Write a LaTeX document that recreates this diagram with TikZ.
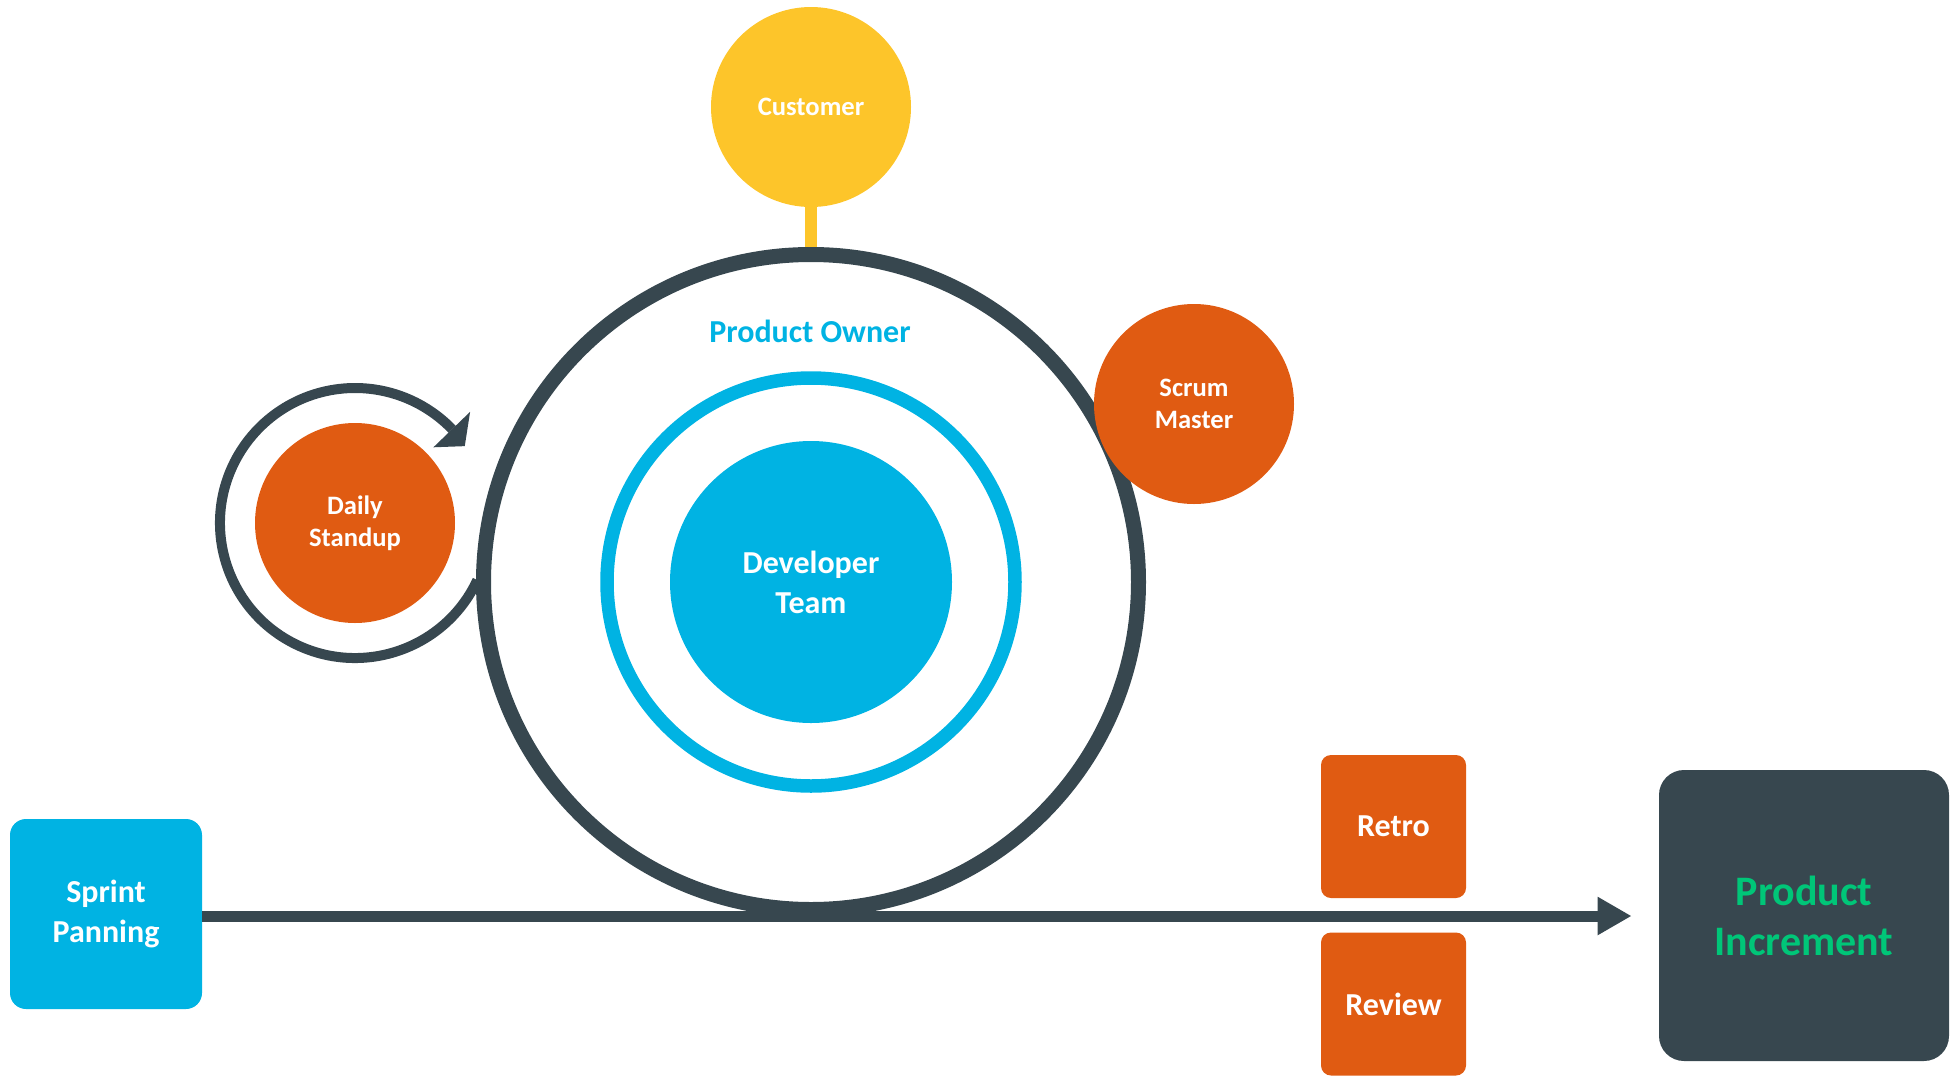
\documentclass[tikz,border=0pt]{standalone}
\usepackage{fontspec}
\setmainfont{Carlito}
\usetikzlibrary{calc,arrows.meta}
\definecolor{dk}{RGB}{55,71,79}
\definecolor{org}{RGB}{224,91,18}
\definecolor{yel}{RGB}{253,197,42}
\definecolor{cy}{RGB}{0,179,227}
\definecolor{grn}{RGB}{0,198,120}
\begin{document}
\begin{tikzpicture}[x=0.5pt,y=0.5pt,
  smallfont/.style={font=\fontsize{13.3pt}{16pt}\selectfont\bfseries},
  midfont/.style={font=\fontsize{16pt}{20pt}\selectfont\bfseries},
  bigfont/.style={font=\fontsize{21pt}{25pt}\selectfont\bfseries},
  role/.style={circle, fill=#1, text=white, minimum size=100pt, inner sep=0pt, align=center, smallfont},
  ring/.style={circle, draw=#1, inner sep=0pt},
  ev/.style={rectangle, rounded corners=5pt, fill=org, text=white, minimum width=72.5pt, minimum height=71.5pt, inner sep=0pt, align=center, midfont},
  flow/.style={draw=dk, line width=5.5pt}
]
\useasboundingbox (0,0) rectangle (1951,-1077);

% main ring and inner team
\node[ring=dk, line width=7.5pt, minimum size=327.5pt] (mr) at (811,-582) {};
\node[ring=cy, line width=6.75pt, minimum size=204pt] (br) at (811,-582) {};
\node[circle, fill=cy, text=white, minimum size=141pt, inner sep=0pt, align=center, midfont] (dev) at (811,-582) {Developer\\Team};
\node[text=cy, midfont] (po) at (810,-331) {Product Owner};

% customer
\node[role=yel] (cu) at (811,-107) {Customer};
\draw[yel, line width=6pt] (cu.south) -- (mr.north);

% daily standup with loop
\node[role=org] (ds) at (355,-523) {Daily\\Standup};
\draw[dk, line width=5pt] ($(ds.center)+(335:135)$) arc[start angle=335, end angle=44, radius=135];
\fill[dk] ($(ds.center)+(35:134)$) -- ($(ds.center)+(44:109)$) -- ($(ds.center)+(44:160)$) -- cycle;

% scrum master
\node[role=org] (sm) at (1194,-404) {Scrum\\Master};

% sprint flow
\node[rectangle, rounded corners=8pt, fill=cy, text=white, minimum width=96pt, minimum height=95pt, inner sep=0pt, align=center, midfont] (sp) at (106,-914) {Sprint\\Panning};
\node[rectangle, rounded corners=12.5pt, fill=dk, text=grn, minimum width=145pt, minimum height=145.5pt, inner sep=0pt, align=center, bigfont] (pi) at (1804,-915.5) {Product\\Increment};
\draw[flow, -{Triangle[length=17pt, width=18pt]}, shorten >=13.5pt] ([yshift=-1pt]sp.east) -- ([yshift=-1pt]sp.east -| pi.west);

\node[ev] (re) at (1393.5,-826.5) {Retro};
\node[ev] (rv) at (1393.5,-1004) {Review};
\end{tikzpicture}
\end{document}
